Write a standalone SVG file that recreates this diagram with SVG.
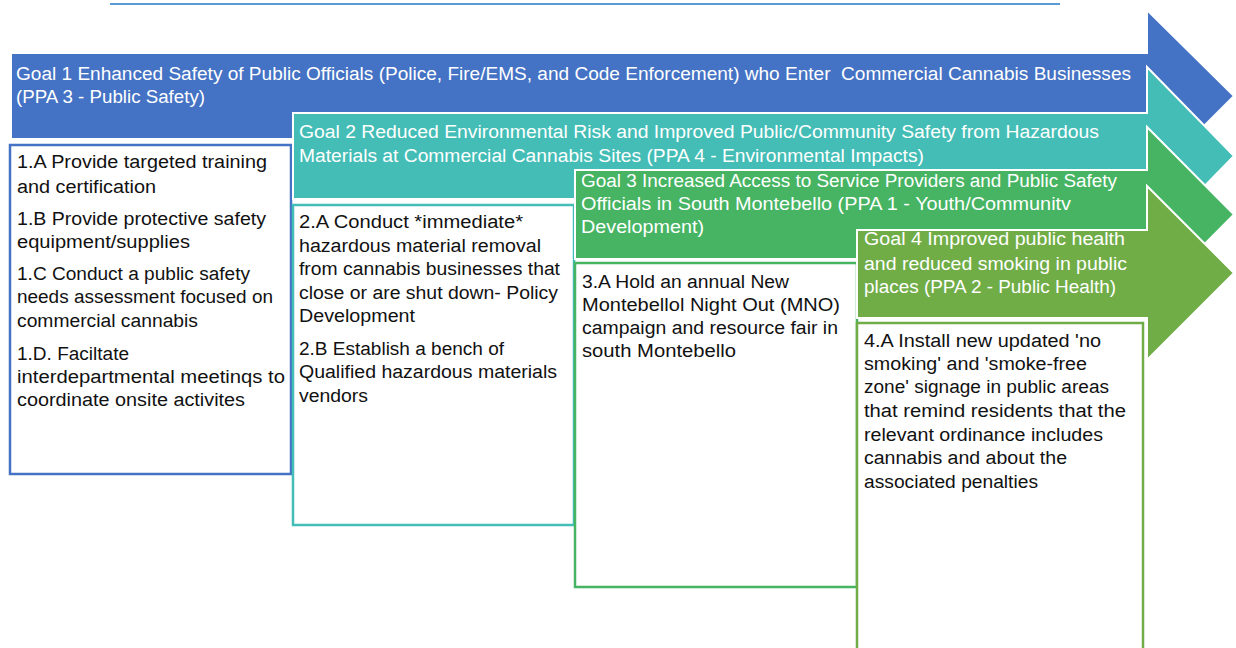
<svg xmlns="http://www.w3.org/2000/svg" width="1236" height="648" viewBox="0 0 1236 648">
<style>
.arrow{stroke:#ffffff;stroke-width:2;stroke-linejoin:miter}
.box{fill:#ffffff;stroke-width:2.5}
.gt{font-family:"Liberation Sans",Arial,sans-serif;font-size:18px;fill:#ffffff}
.bt{font-family:"Liberation Sans",Arial,sans-serif;font-size:18px;fill:#111111}
</style>
<rect width="1236" height="648" fill="#ffffff"/>
<g id="connectors">
<line x1="110" y1="4" x2="1060" y2="4" stroke="#5b9bd5" stroke-width="2"/>
</g>
<g id="goal1">
<polygon class="arrow" fill="#4472c4" points="11,53 1147,53 1147,10 1234,96 1147,183 1147,139 11,139"/>
<text class="gt" x="16" y="80" textLength="1115" lengthAdjust="spacingAndGlyphs" xml:space="preserve">Goal 1 Enhanced Safety of Public Officials (Police, Fire/EMS, and Code Enforcement) who Enter  Commercial Cannabis Businesses</text>
<text class="gt" x="16" y="103" textLength="189" lengthAdjust="spacingAndGlyphs">(PPA 3 - Public Safety)</text>
</g>
<g id="box1">
<rect class="box" stroke="#4472c4" x="10" y="145" width="281" height="329"/>
<text class="bt" x="17" y="168" textLength="250" lengthAdjust="spacingAndGlyphs">1.A Provide targeted training</text>
<text class="bt" x="17" y="193" textLength="139" lengthAdjust="spacingAndGlyphs">and certification</text>
<text class="bt" x="17" y="225" textLength="249" lengthAdjust="spacingAndGlyphs">1.B Provide protective safety</text>
<text class="bt" x="17" y="248" textLength="173" lengthAdjust="spacingAndGlyphs">equipment/supplies</text>
<text class="bt" x="17" y="280" textLength="233" lengthAdjust="spacingAndGlyphs">1.C Conduct a public safety</text>
<text class="bt" x="17" y="303" textLength="256" lengthAdjust="spacingAndGlyphs">needs assessment focused on</text>
<text class="bt" x="17" y="327" textLength="181" lengthAdjust="spacingAndGlyphs">commercial cannabis</text>
<text class="bt" x="17" y="360" textLength="112" lengthAdjust="spacingAndGlyphs">1.D. Faciltate</text>
<text class="bt" x="17" y="383" textLength="268" lengthAdjust="spacingAndGlyphs">interdepartmental meetinqs to</text>
<text class="bt" x="17" y="406" textLength="228" lengthAdjust="spacingAndGlyphs">coordinate onsite activites</text>
</g>
<g id="goal2">
<polygon class="arrow" fill="#43bdb6" points="293,113 1147,113 1147,67 1234,156 1147,245 1147,199 293,199"/>
<text class="gt" x="299" y="138" textLength="800" lengthAdjust="spacingAndGlyphs">Goal 2 Reduced Environmental Risk and Improved Public/Community Safety from Hazardous</text>
<text class="gt" x="299" y="162" textLength="625" lengthAdjust="spacingAndGlyphs">Materials at Commercial Cannabis Sites (PPA 4 - Environmental Impacts)</text>
</g>
<g id="box2">
<rect class="box" stroke="#43bdb6" x="293" y="205" width="281" height="320"/>
<text class="bt" x="299" y="228" textLength="224" lengthAdjust="spacingAndGlyphs">2.A Conduct *immediate*</text>
<text class="bt" x="299" y="252" textLength="242" lengthAdjust="spacingAndGlyphs">hazardous material removal</text>
<text class="bt" x="299" y="275" textLength="261" lengthAdjust="spacingAndGlyphs">from cannabis businesses that</text>
<text class="bt" x="299" y="299" textLength="259" lengthAdjust="spacingAndGlyphs">close or are shut down- Policy</text>
<text class="bt" x="299" y="322" textLength="116" lengthAdjust="spacingAndGlyphs">Development</text>
<text class="bt" x="299" y="355" textLength="205" lengthAdjust="spacingAndGlyphs">2.B Establish a bench of</text>
<text class="bt" x="299" y="378" textLength="258" lengthAdjust="spacingAndGlyphs">Qualified hazardous materials</text>
<text class="bt" x="299" y="402" textLength="69" lengthAdjust="spacingAndGlyphs">vendors</text>
</g>
<g id="goal3">
<polygon class="arrow" fill="#46b463" points="575,170 1147,170 1147,127 1234,214.5 1147,302 1147,259 575,259"/>
<text class="gt" x="581" y="187" textLength="536" lengthAdjust="spacingAndGlyphs">Goal 3 Increased Access to Service Providers and Public Safety</text>
<text class="gt" x="581" y="210" textLength="490" lengthAdjust="spacingAndGlyphs">Officials in South Montebello (PPA 1 - Youth/Communitv</text>
<text class="gt" x="581" y="233" textLength="123" lengthAdjust="spacingAndGlyphs">Development)</text>
</g>
<g id="box3">
<rect class="box" stroke="#46b463" x="575" y="263" width="282" height="324"/>
<text class="bt" x="582" y="288" textLength="207" lengthAdjust="spacingAndGlyphs">3.A Hold an annual New</text>
<text class="bt" x="582" y="311" textLength="258" lengthAdjust="spacingAndGlyphs">Montebellol Night Out (MNO)</text>
<text class="bt" x="582" y="334" textLength="256" lengthAdjust="spacingAndGlyphs">campaign and resource fair in</text>
<text class="bt" x="582" y="357" textLength="154" lengthAdjust="spacingAndGlyphs">south Montebello</text>
</g>
<g id="goal4">
<polygon class="arrow" fill="#70ad47" points="857,230 1147,230 1147,186 1234,273 1147,360 1147,318 857,318"/>
<text class="gt" x="864" y="245" textLength="261" lengthAdjust="spacingAndGlyphs">Goal 4 Improved public health</text>
<text class="gt" x="864" y="270" textLength="263" lengthAdjust="spacingAndGlyphs">and reduced smoking in public</text>
<text class="gt" x="864" y="293" textLength="252" lengthAdjust="spacingAndGlyphs">places (PPA 2 - Public Health)</text>
</g>
<g id="box4">
<rect class="box" stroke="#70ad47" x="857" y="323" width="286" height="340"/>
<text class="bt" x="864" y="347" textLength="237" lengthAdjust="spacingAndGlyphs">4.A Install new updated 'no</text>
<text class="bt" x="864" y="370" textLength="223" lengthAdjust="spacingAndGlyphs">smoking' and 'smoke-free</text>
<text class="bt" x="864" y="393" textLength="245" lengthAdjust="spacingAndGlyphs">zone' signage in public areas</text>
<text class="bt" x="864" y="417" textLength="262" lengthAdjust="spacingAndGlyphs">that remind residents that the</text>
<text class="bt" x="864" y="441" textLength="239" lengthAdjust="spacingAndGlyphs">relevant ordinance includes</text>
<text class="bt" x="864" y="464" textLength="203" lengthAdjust="spacingAndGlyphs">cannabis and about the</text>
<text class="bt" x="864" y="488" textLength="174" lengthAdjust="spacingAndGlyphs">associated penalties</text>
</g>
</svg>
